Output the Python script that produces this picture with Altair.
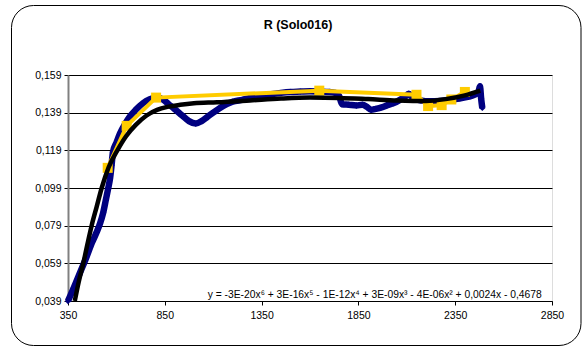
import altair as alt
import pandas as pd

# ---- data ----
blue_x = [350, 380, 412, 444, 474, 500, 515, 532, 546, 558, 567, 575, 582, 600, 619, 645, 670, 700, 737, 770,
          810, 840, 870, 900, 940, 975, 1010, 1040, 1070, 1100, 1135, 1170, 1200, 1250, 1290, 1350, 1400, 1450,
          1500, 1550, 1600, 1650, 1700, 1730, 1750, 1765, 1800, 1840, 1870, 1895, 1915, 1940, 1970, 2000, 2030,
          2060, 2090, 2110, 2130, 2170, 2220, 2270, 2320, 2370, 2420, 2450, 2470, 2478, 2484, 2490]
blue_y = [0.039, 0.046, 0.054, 0.062, 0.070, 0.076, 0.080, 0.086, 0.093, 0.099, 0.104, 0.111, 0.118, 0.123,
          0.128, 0.133, 0.137, 0.1405, 0.144, 0.146, 0.147, 0.146, 0.1435, 0.141, 0.1375, 0.1345, 0.1332, 0.1345,
          0.1368, 0.139, 0.1415, 0.1435, 0.1448, 0.1458, 0.1468, 0.1478, 0.1488, 0.1495, 0.1500, 0.1502, 0.1504,
          0.1502, 0.1500, 0.1495, 0.1480, 0.1435, 0.1432, 0.1428, 0.1432, 0.1420, 0.1405, 0.1410, 0.1418, 0.1430,
          0.1440, 0.1455, 0.1475, 0.1490, 0.1470, 0.1455, 0.1450, 0.1452, 0.1458, 0.1465, 0.1475, 0.1485, 0.1500,
          0.1530, 0.1465, 0.1415]

yellow_x = [555, 653, 805, 1648, 2150, 2210, 2280, 2330, 2400]
yellow_y = [0.1097, 0.132, 0.147, 0.1507, 0.1485, 0.1425, 0.1430, 0.1460, 0.1500]

trend_x = [385, 405, 429, 450, 472, 498, 524, 560, 605, 650, 700, 756, 810, 870, 930, 1000, 1120, 1290, 1450,
           1600, 1750, 1900, 2050, 2200, 2300, 2400, 2480]
trend_y = [0.039, 0.049, 0.059, 0.069, 0.079, 0.089, 0.099, 0.110, 0.119, 0.1265, 0.1325, 0.1375, 0.1405,
           0.1422, 0.1432, 0.1440, 0.1445, 0.1455, 0.1465, 0.1470, 0.1468, 0.1462, 0.1455, 0.1452, 0.1462,
           0.1482, 0.1507]

x_ticks = [350, 850, 1350, 1850, 2350, 2850]
y_ticks = [0.039, 0.059, 0.079, 0.099, 0.119, 0.139, 0.159]

title_text = "R (Solo016)"
equation = "y = -3E-20x\u2076 + 3E-16x\u2075 - 1E-12x\u2074 + 3E-09x\u00b3 - 4E-06x\u00b2 + 0,0024x - 0,4678"

FONT = "Liberation Sans"

blue_df = pd.DataFrame({"x": blue_x, "y": blue_y})
yellow_df = pd.DataFrame({"x": yellow_x, "y": yellow_y})
trend_df = pd.DataFrame({"x": trend_x, "y": trend_y})

xscale = alt.Scale(domain=[350, 2850], nice=False, zero=False)
yscale = alt.Scale(domain=[0.039, 0.159], nice=False, zero=False)

xenc = alt.X("x:Q", scale=xscale, axis=alt.Axis(
    values=x_ticks, tickCount=10, format="d", title=None, grid=False, domainColor="#000000", domainWidth=1,
    tickColor="#000000", tickSize=4, labelPadding=5, labelFont=FONT, labelFontSize=10.5,
    labelColor="#000000", labelFlush=False, labelOverlap=False))
yenc = alt.Y("y:Q", scale=yscale, axis=alt.Axis(
    values=y_ticks, tickCount=10, title=None, grid=True, gridColor="#000000", gridWidth=1, gridOpacity=1,
    domainColor="#808080", domainWidth=2, tickColor="#000000", tickSize=4, labelPadding=3,
    labelFont=FONT, labelFontSize=10.5, labelColor="#000000", labelFlush=False, labelOverlap=False,
    labelExpr="replace(format(datum.value, '.3f'), '.', ',')"))

frame = alt.Chart(pd.DataFrame({"k": [0]})).mark_rect(
    fill=None, stroke="#000000", strokeWidth=1, cornerRadius=22, clip=False
).encode(x=alt.value(-56.5), x2=alt.value(513), y=alt.value(-69.5), y2=alt.value(270.5))

title = alt.Chart(pd.DataFrame({"t": [title_text]})).mark_text(
    align="center", baseline="middle", font=FONT, fontSize=12.5, fontWeight="bold", color="#000000"
).encode(x=alt.value(230), y=alt.value(-50), text="t:N")

blue = alt.Chart(blue_df).mark_line(
    color="#000080", strokeWidth=6.5, interpolate="monotone", clip=False,
    point=alt.OverlayMarkDef(shape="diamond", size=40, filled=True, color="#000080")
).encode(x=xenc, y=yenc)

yellow = alt.Chart(yellow_df).mark_line(
    color="#FFCC00", strokeWidth=4, clip=False,
    point=alt.OverlayMarkDef(shape="square", size=100, filled=True, color="#FFCC00", opacity=1)
).encode(x="x:Q", y="y:Q")

trend = alt.Chart(trend_df).mark_line(
    color="#000000", strokeWidth=4.5, interpolate="monotone", clip=False
).encode(x="x:Q", y="y:Q")

eq = alt.Chart(pd.DataFrame({"t": [equation]})).mark_text(
    align="right", baseline="bottom", font=FONT, fontSize=10.3, color="#000000"
).encode(x=alt.datum(2797), y=alt.datum(0.0397), text="t:N")

chart = alt.layer(frame, title, blue, yellow, trend, eq).properties(
    width=484, height=226,
    autosize=alt.AutoSizeParams(type="none"),
    padding={"left": 68, "top": 75, "right": 30, "bottom": 46},
).configure_view(stroke="#808080", strokeWidth=2).configure(background="#ffffff")

chart.save("out.html", embed_options={"renderer": "svg", "actions": False})
